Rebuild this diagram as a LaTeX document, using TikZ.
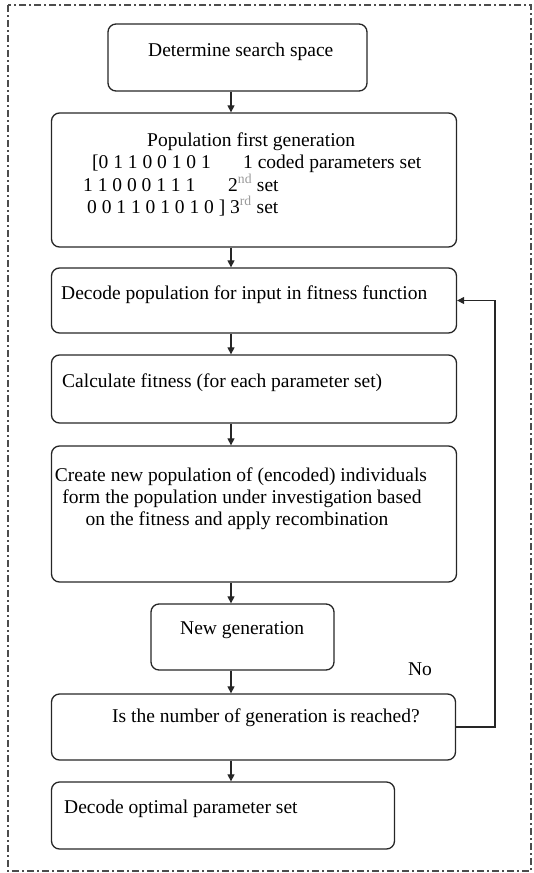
\documentclass[tikz,border=0pt]{standalone}
\usepackage{fontspec}
\setmainfont{Liberation Serif}
\usetikzlibrary{arrows.meta}
\newcommand{\fsz}{\fontsize{19.5}{22.4}\selectfont}
\begin{document}
\begin{tikzpicture}[x=1pt,y=-1pt,
  box/.style={draw=black!85, rounded corners=8pt, line width=1.3pt, inner sep=0pt},
  txt/.style={inner sep=0pt, anchor=base west, font=\fsz, text=black},
  arr/.style={draw=black!85, line width=1.2pt, -{Triangle[width=7pt,length=7pt]}},
  frame/.style={draw=black!70, line width=1.2pt, dash pattern=on 7pt off 3pt on 2pt off 3pt}]
\useasboundingbox (0,0) rectangle (533,873);
\draw[frame] (8,5) rectangle (531,871);

% boxes
\node[box, minimum width=259pt, minimum height=67pt] (b1) at (237.5,57.5) {};
\node[box, minimum width=405pt, minimum height=134pt] (b2) at (254,180) {};
\node[box, minimum width=405pt, minimum height=65pt] (b3) at (254,300.5) {};
\node[box, minimum width=405pt, minimum height=68pt] (b4) at (254,389) {};
\node[box, minimum width=405pt, minimum height=136pt] (b5) at (254,514) {};
\node[box, minimum width=183pt, minimum height=66pt] (b6) at (242.5,637) {};
\node[box, minimum width=404pt, minimum height=66pt] (b7) at (253.5,727) {};
\node[box, minimum width=343pt, minimum height=67pt] (b8) at (223,815.5) {};

% texts
\node[txt] (t1) at (148,56) {Determine search space};
\node[txt] (t2) at (147,146) {Population first generation};
\node[txt] (t2a) at (92,168) {[0 1 1 0 0 1 0 1};
\node[txt] (t2b) at (243,168) {1 coded parameters set};
\node[txt] (t2c) at (83,191) {1 1 0 0 0 1 1 1};
\node[txt] (t2d) at (228,191) {2\textsuperscript{\textcolor{black!40}{nd}} set};
\node[txt] (t2e) at (87,213) {0 0 1 1 0 1 0 1 0 ]};
\node[txt] (t2f) at (230,213) {3\textsuperscript{\textcolor{black!40}{rd}} set};
\node[txt] (t3) at (61,299) {Decode population for input in fitness function};
\node[txt] (t4) at (62,387) {Calculate fitness (for each parameter set)};
\node[txt, anchor=base] (t5a) at (241,481) {Create new population of (encoded) individuals};
\node[txt, anchor=base] (t5b) at (242,503.5) {form the population under investigation based};
\node[txt, anchor=base] (t5c) at (237,525) {on the fitness and apply recombination};
\node[txt] (t6) at (180,634) {New generation};
\node[txt] (t7) at (112,722) {Is the number of generation is reached?};
\node[txt] (t8) at (64,813) {Decode optimal parameter set};
\node[txt, anchor=base] (no) at (420,675) {No};

% connectors
\coordinate (ax) at (231,0);
\coordinate (fb) at (495,0);
\draw[arr] (b1.south -| ax) -- (b2.north -| ax);
\draw[arr] (b2.south -| ax) -- (b3.north -| ax);
\draw[arr] (b3.south -| ax) -- (b4.north -| ax);
\draw[arr] (b4.south -| ax) -- (b5.north -| ax);
\draw[arr] (b5.south -| ax) -- (b6.north -| ax);
\draw[arr] (b6.south -| ax) -- (b7.north -| ax);
\draw[arr] (b7.south -| ax) -- (b8.north -| ax);
\draw[arr] (b7.east) -- (b7.east -| fb) -- (b3.east -| fb) -- (b3.east);
\end{tikzpicture}
\end{document}
